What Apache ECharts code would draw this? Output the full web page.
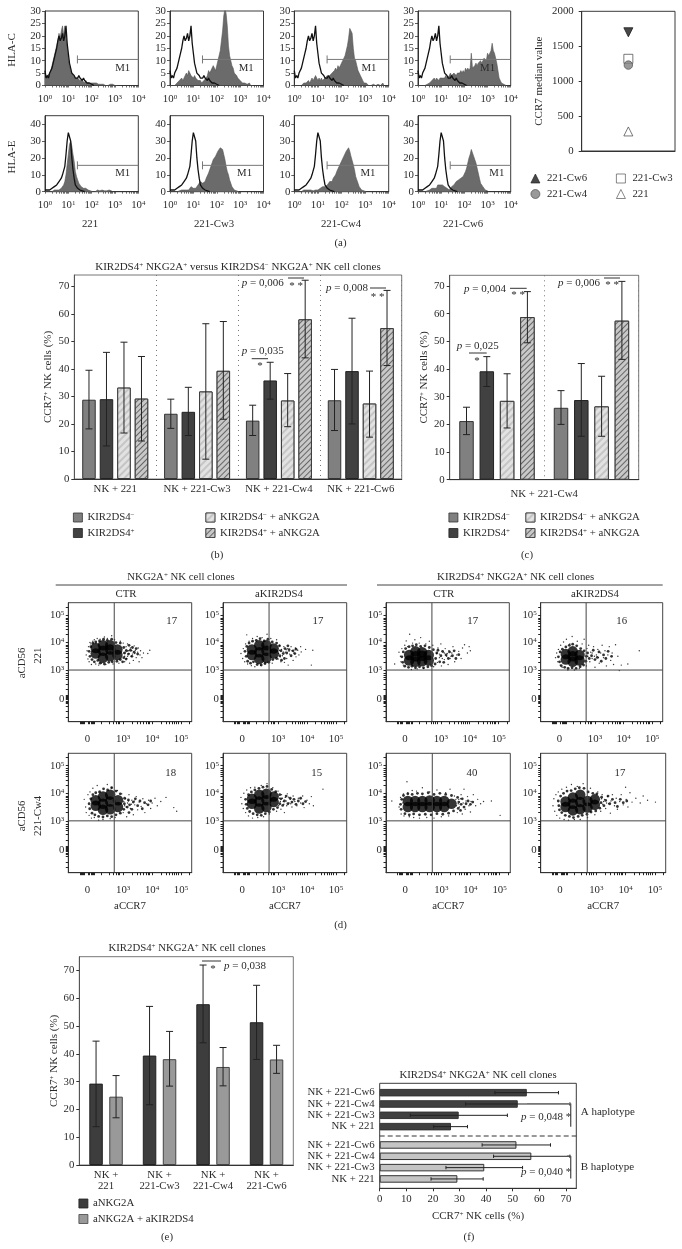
<!DOCTYPE html>
<html><head><meta charset="utf-8">
<style>html,body{margin:0;padding:0;background:#fff}#c{width:682px;height:1249px}</style>
<script src="https://cdn.jsdelivr.net/npm/echarts@6/dist/echarts.min.js"></script>
</head><body><div id="c"></div>
<script>
/* ---------- panel (a): histogram counts, one value every 0.05 decade from 10^0 ---------- */
const hlaCControl=[6,3,4,3,5,5,7,9,11,13,15,18,20,18,19,21,18,20,24,17,13,9,7,5,5,4,3,3,3,4,3,3,2,3,2,2,1,1,1,1,.5,.5,0];
const hlaEControl=[1,2,1,.5,1,.5,2,1,3,4,4,3,6,5,8,10,11,15,22,30,35,35,30,20,13,8,4,3,2,2,1,1,.5,.5,0];
const hlaC221=[3,3,4,4,5,6,8,10,12,14,16,18,21,19,22,24,20,24,24,16,11,8,6,5,4,4,3,3,3,3,2,2,2,2,1,2,1,1,1,1,1,.5,1,.5,1,.5,.5,0,.5,0,.5,0,0,.5,0,0,.5,0,.5,0,0,.5,0];
const hlaCCw3=[0,0,0,0,0,.5,1,1,2,2,3,2,3,4,5,4,6,5,4,4,3,4,3,3,2,2,2,1,1,2,2,3,4,6,5,6,7,8,7,6,8,10,12,14,18,22,28,31,29,24,16,12,10,8,7,5,5,4,3,3,2,2,1,1,1,1,.5,.5,1,0,.5,0];
const hlaCCw4=[0,0,0,0,0,0,0,.5,1,1,1,1,2,1,2,3,2,3,4,3,2,3,2,3,2,2,3,3,4,3,4,4,5,5,6,7,6,8,7,8,9,10,11,12,14,16,19,23,22,21,15,11,10,8,6,5,4,3,2,1,1,1,.5,0,0,0,0,.5,0,0,0,.5,0,0,.5,1,0];
const hlaCCw6=[0,0,0,0,0,0,0,0,.5,1,1,1,2,2,3,2,3,3,2,3,3,3,3,3,4,3,3,4,5,4,4,5,5,4,5,5,5,6,5,6,5,7,6,7,6,7,13,7,7,8,9,8,9,9,10,9,10,11,11,10,13,12,12,14,17,14,13,11,9,6,3,2,1,1,.5,.5,0];
const hlaE221=[0,0,0,0,0,.5,0,1,1,1,1,1,1,1,2,3,4,6,10,16,22,28,30,27,22,18,12,9,7,5,4,3,3,2,2,2,1,1,1,.5,.5,0,0,0,1,1,1,.5,1,1,1,.5,1,.5,1,1,.5,.5,0];
const hlaECw3=[0,0,0,0,0,0,0,.5,.5,1,1,1,1,2,1,2,1,2,3,3,2,3,2,3,4,5,6,6,5,4,6,8,9,11,12,15,17,19,20,21,22,24,24,26,27,25,22,19,15,12,10,7,5,3,2,1,1,.5,.5,0];
const hlaECw4=[0,0,0,0,0,0,0,.5,1,1,1,.5,1,1,1,1,.5,1,1,1,1,2,2,3,3,2,3,4,4,5,6,5,6,8,8,10,12,13,15,16,18,19,21,22,24,25,26,24,21,20,16,13,9,7,5,3,2,1,1,.5,.5,0];
const hlaECw6=[0,0,0,0,0,0,0,1,.5,1,1,1,2,3,2,3,2,4,3,4,5,4,4,3,3,2,3,1,2,3,3,4,5,6,6,7,7,8,8,9,10,12,14,17,20,22,25,24,21,19,17,14,11,8,5,4,3,2,1,.5,.5,0];
const histColumns=['221','221-Cw3','221-Cw4','221-Cw6'];
const ccr7Median=[['221-Cw6',1700],['221-Cw3',1320],['221-Cw4',1230],['221',280]];

/* ---------- panels (b) (c): mean, error low, error high per treatment ---------- */
const bCategories=['NK + 221','NK + 221-Cw3','NK + 221-Cw4','NK + 221-Cw6'];
const treatments=['KIR2DS4-','KIR2DS4+','KIR2DS4- + aNKG2A','KIR2DS4+ + aNKG2A'];
const bMeans=[[28.8,23.7,21.2,28.6],[29,24.4,35.8,39.2],[33.2,31.8,28.5,27.4],[29.2,39.3,58,54.8]];
const bLow=[[18.2,18.4,15.8,17.6],[12,15.8,29,20],[16.7,7.2,19,15.2],[13.8,21.7,44,41.2]];
const bHigh=[[39.5,29,26.8,39.8],[46,33.3,42.4,58.4],[49.7,56.4,38.3,39.2],[44.5,57.2,72.2,68.5]];
const cMeans=[[21.2,26],[39.2,28.8],[28.5,26.5],[58.8,57.5]];
const cLow=[[16.3,20],[33.7,15.7],[18.7,15.7],[49.5,43.5]];
const cHigh=[[26.2,32.2],[44.5,42],[38.3,37.4],[68,71.7]];

/* ---------- panel (e) ---------- */
const eCategories=['NK +\n221','NK +\n221-Cw3','NK +\n221-Cw4','NK +\n221-Cw6'];
const eTreatments=['aNKG2A','aNKG2A + aKIR2DS4'];
const eMeans=[[29.3,39.4,57.9,51.4],[24.6,38.1,35.3,38]];
const eLow=[[13.8,21.7,44,38],[17,28.4,28.5,33]];
const eHigh=[[44.6,57.1,72,64.7],[32.2,48.1,42.3,43.1]];

/* ---------- panel (f) ---------- */
const fCategories=['NK + 221-Cw6','NK + 221-Cw4','NK + 221-Cw3','NK + 221'];
const fAMeans=[55.3,51.9,29.7,26.8], fALow=[43.3,32.3,11.5,20.3], fAHigh=[67.2,71.5,48,33];
const fBMeans=[51.4,57,39.3,29.2], fBLow=[38.5,42.8,24.9,19.3], fBHigh=[64.2,71.5,53.7,38.9];

/* ---------- panel (d): dense cores, edge clusters and outlying events, in decades of the display scale ---------- */
const d1Core=[[2.05,3.6],[2.05,3.8],[2.3,3.45],[2.3,3.7],[2.3,3.9],[2.55,3.5],[2.55,3.75],[2.55,3.9],[2.8,3.55],[2.8,3.75]];
const d1Mid=[[1.85,3.5],[1.82,3.68],[1.88,3.85],[1.95,3.98],[2.05,4.02],[2.18,4.06],[2.32,4.12],[2.45,4.08],[2.6,4.12],[2.75,4],[2.9,3.98],[1.92,3.38],[2,3.3],[2.12,3.35],[2.2,3.25],[2.35,3.22],[2.5,3.28],[2.62,3.3],[2.78,3.32],[2.9,3.38],[3.02,3.45],[3.05,3.62],[3.02,3.82],[3.12,3.7],[3.18,3.58],[3.25,3.72],[3.3,3.5],[3.38,3.65],[3.45,3.78],[3.2,3.9],[3.1,3.4],[3.5,3.58],[3.32,3.82],[2.98,3.3]];
const d1Dots=[[1.72,3.55],[1.75,3.7],[1.78,3.4],[1.8,3.85],[1.82,3.3],[1.85,4],[1.88,3.95],[1.9,3.2],[1.95,4.05],[2,4.1],[2.05,3.22],[2.1,4.15],[2.15,3.18],[2.2,4.12],[2.25,3.25],[2.35,4.2],[2.4,3.2],[2.45,4.15],[2.6,4.25],[2.7,4.1],[2.65,3.22],[2.85,3.25],[2.9,4.05],[3,3.98],[3.05,3.3],[3.05,3.5],[3.08,3.7],[3.1,3.85],[3.12,3.42],[3.15,3.95],[3.2,3.6],[3.22,3.25],[3.25,3.8],[3.28,3.5],[3.3,3.7],[3.35,3.35],[3.38,3.88],[3.4,3.6],[3.42,3.72],[3.45,3.45],[3.5,3.65],[3.52,3.8],[3.55,3.3],[3.58,3.55],[3.6,3.7],[3.65,3.45],[3.7,3.62],[3.92,3.72],[3.85,3.6],[3.02,3.62],[3.1,3.75],[3.18,3.7],[3.15,3.5],[3.32,3.58]];
const d2Core=[[2.1,3.55],[2.1,3.75],[2.35,3.4],[2.35,3.65],[2.35,3.9],[2.6,3.45],[2.6,3.7],[2.6,3.9],[2.85,3.6],[2.85,3.78]];
const d2Mid=[[1.9,3.5],[1.86,3.68],[1.92,3.86],[2,3.98],[2.12,4.05],[2.25,4.08],[2.38,4.14],[2.52,4.06],[2.65,4.12],[2.8,4.02],[2.95,3.98],[1.95,3.32],[2.05,3.25],[2.15,3.3],[2.28,3.2],[2.42,3.18],[2.55,3.24],[2.68,3.28],[2.82,3.38],[2.95,3.42],[3.06,3.52],[3.1,3.7],[3.05,3.88],[3.18,3.6],[3.24,3.78],[3.3,3.62],[3.38,3.74],[3.45,3.52],[3.52,3.7],[3.58,3.6],[3.22,3.42],[3.34,3.88],[3.62,3.76],[3.12,3.36]];
const d2Dots=[[1.72,3.6],[1.78,3.42],[1.8,3.78],[1.85,3.3],[1.88,3.95],[1.92,4.28],[1.95,3.22],[2,4.05],[2.08,3.16],[2.12,4.15],[2.2,3.12],[2.28,4.22],[2.4,3.18],[2.45,4.18],[2.55,3.22],[2.62,4.3],[2.75,4.15],[2.8,3.25],[2.95,4.1],[3,3.4],[3.02,3.6],[3.05,3.9],[3.1,3.3],[3.12,3.75],[3.15,3.52],[3.2,3.85],[3.25,3.65],[3.3,3.42],[3.32,3.78],[3.35,3.18],[3.4,3.58],[3.45,3.85],[3.48,3.7],[3.52,3.35],[3.55,3.62],[3.6,3.8],[3.62,3.48],[3.68,3.72],[3.72,3.55],[3.78,3.85],[3.8,3.66],[3.95,3.75],[4.2,3.72],[4.15,3.18],[3.05,3.72],[3.18,3.66],[3.08,3.48],[3.28,3.74],[3.38,3.68],[3.22,3.28]];
const d3Core=[[1.9,3.35],[1.9,3.55],[2.12,3.3],[2.12,3.5],[2.12,3.68],[2.35,3.32],[2.35,3.52],[2.35,3.65],[2.58,3.35],[2.58,3.55]];
const d3Mid=[[1.68,3.28],[1.65,3.48],[1.7,3.66],[1.78,3.78],[1.9,3.85],[2.02,3.88],[2.15,3.92],[2.3,3.86],[2.45,3.88],[2.6,3.82],[2.74,3.74],[1.75,3.14],[1.88,3.1],[2,3.14],[2.12,3.08],[2.26,3.12],[2.4,3.08],[2.55,3.12],[2.68,3.16],[2.8,3.22],[2.82,3.42],[2.86,3.62],[2.9,3.72],[2.96,3.3],[3,3.52],[3.06,3.68],[3.1,3.28],[3.18,3.55],[3.26,3.42],[3.3,3.66],[3.4,3.52],[3.46,3.7],[3.52,3.42],[3.62,3.56]];
const d3Dots=[[1.4,3.22],[1.55,3.65],[1.6,3.5],[1.62,3.3],[1.65,3.78],[1.7,3.18],[1.75,3.9],[1.8,4.06],[1.85,3.85],[1.92,4.3],[1.98,3.02],[2.02,3.98],[2.1,4.1],[2.18,3.04],[2.25,3.98],[2.3,4.18],[2.4,3.06],[2.48,3.95],[2.6,4.05],[2.72,3.9],[2.75,3.12],[2.85,3.6],[2.88,3.28],[2.9,3.8],[2.95,3.45],[3,3.95],[3.02,3.15],[3.08,3.65],[3.12,3.38],[3.15,3.78],[3.2,3.5],[3.25,3.2],[3.28,3.7],[3.32,3.42],[3.38,3.62],[3.42,3.85],[3.48,3.3],[3.55,3.55],[3.62,3.68],[3.7,3.42],[3.75,3.8],[3.82,3.92],[3.98,3.85],[3.92,3.62],[4.02,3.7],[2.95,3.58],[3.05,3.42],[3.12,3.62],[3.22,3.6],[3.35,3.5]];
const d4Core=[[1.98,3.38],[1.98,3.58],[2.22,3.3],[2.22,3.5],[2.22,3.68],[2.46,3.35],[2.46,3.55]];
const d4Mid=[[1.76,3.3],[1.72,3.48],[1.78,3.66],[1.86,3.76],[1.98,3.84],[2.1,3.9],[2.22,3.94],[2.36,3.88],[2.5,3.78],[2.62,3.7],[1.82,3.16],[1.94,3.1],[2.06,3.06],[2.2,3.08],[2.34,3.06],[2.48,3.12],[2.6,3.18],[2.68,3.32],[2.7,3.5],[2.74,3.62],[2.8,3.42],[2.88,3.52],[2.94,3.72],[3,3.38],[3.08,3.46],[3.14,3.66],[3.22,3.32],[3.3,3.55],[3.38,3.42],[3.46,3.68],[3.58,3.5]];
const d4Dots=[[1.62,3.45],[1.66,3.62],[1.7,3.3],[1.72,3.75],[1.78,3.18],[1.8,3.9],[1.85,3.1],[1.9,4.02],[2,4.12],[2.05,3],[2.12,3.95],[2.2,4.22],[2.28,3],[2.38,4.05],[2.45,3.05],[2.55,3.95],[2.62,4.12],[2.7,3.15],[2.72,3.78],[2.75,3.5],[2.78,3.9],[2.82,3.3],[2.85,3.65],[2.9,3.42],[2.95,3.85],[3,3.1],[3.05,3.55],[3.1,3.75],[3.15,3.25],[3.2,3.62],[3.25,3.9],[3.3,3.45],[3.35,3.7],[3.4,3.15],[3.45,3.55],[3.5,3.85],[3.55,3.35],[3.6,3.62],[3.65,3.2],[3.72,3.92],[3.8,3.5],[3.92,3.18],[4.15,3.22],[3.85,2.98],[4.55,3.7],[2.9,3.62],[2.98,3.5],[3.12,3.45]];
const d5Core=[[2.05,3.55],[2.05,3.75],[2.3,3.4],[2.3,3.62],[2.3,3.88],[2.55,3.42],[2.55,3.7],[2.55,3.95],[2.82,3.5],[2.82,3.75]];
const d5Mid=[[1.82,3.62],[1.84,3.44],[1.88,3.8],[1.95,3.95],[2.05,4.02],[2.18,4.05],[2.32,4.16],[2.46,4.12],[2.6,4.2],[2.75,4.08],[2.9,3.98],[1.92,3.28],[2.02,3.22],[2.15,3.16],[2.3,3.14],[2.45,3.18],[2.6,3.15],[2.75,3.22],[2.9,3.28],[3.02,3.42],[3.04,3.62],[3.05,3.82],[3.14,3.5],[3.18,3.76],[3.22,3.58],[3.3,3.42],[3.35,3.68],[3.42,3.8],[3.5,3.55],[3.58,3.72],[3.66,3.44],[3.74,3.66],[3.86,3.58],[3.95,3.72],[3.2,3.3]];
const d5Dots=[[1.65,3.78],[1.7,3.5],[1.72,3.3],[1.78,3.95],[1.82,3.2],[1.85,4.05],[1.9,3.1],[1.95,4.18],[2,3.12],[2.1,4.28],[2.15,3.02],[2.2,4.08],[2.3,3.05],[2.45,4.32],[2.55,3.08],[2.6,4.2],[2.72,3.12],[2.8,4.1],[2.95,3.98],[3,3.3],[3.05,3.55],[3.08,3.8],[3.12,3.15],[3.15,3.65],[3.2,3.95],[3.25,3.45],[3.3,3.75],[3.35,3.22],[3.4,3.58],[3.45,3.88],[3.5,3.4],[3.55,3.68],[3.62,3.52],[3.68,3.8],[3.75,3.3],[3.8,3.62],[3.88,3.75],[3.95,3.45],[4,3.65],[4.1,3.82],[4.18,3.55],[4.3,3.7],[4.48,3.85],[4.75,3.48],[4.85,3.35],[3.02,3.7],[3.1,3.5],[3.18,3.72],[3.28,3.6],[3.38,3.72]];
const d6Core=[[2.1,3.62],[2.1,3.8],[2.35,3.45],[2.35,3.7],[2.35,3.95],[2.6,3.5],[2.6,3.75],[2.6,3.98],[2.85,3.68],[2.85,3.88]];
const d6Mid=[[1.9,3.6],[1.88,3.78],[1.94,3.45],[1.98,3.95],[2.08,4.05],[2.2,4.12],[2.34,4.18],[2.48,4.22],[2.62,4.25],[2.78,4.14],[2.92,4.06],[2.02,3.34],[2.14,3.26],[2.28,3.22],[2.42,3.2],[2.56,3.26],[2.7,3.32],[2.84,3.42],[2.98,3.48],[3.06,3.62],[3.1,3.8],[3.06,3.95],[3.16,3.56],[3.22,3.72],[3.28,3.9],[3.34,3.62],[3.42,3.82],[3.48,3.68],[3.55,3.78],[3.62,3.6],[3.7,3.72],[3.78,3.82],[3.86,3.62],[3.95,3.7]];
const d6Dots=[[1.72,3.85],[1.75,3.62],[1.8,3.45],[1.82,4],[1.88,3.3],[1.92,4.12],[1.98,3.18],[2.05,4.2],[2.12,3.1],[2.2,4.22],[2.3,3.12],[2.42,4.28],[2.5,3.15],[2.62,4.35],[2.7,3.25],[2.82,4.2],[2.95,3.35],[3,4.08],[3.02,3.55],[3.05,3.82],[3.1,3.42],[3.12,3.95],[3.18,3.7],[3.22,3.3],[3.25,3.85],[3.3,3.55],[3.32,3.98],[3.38,3.65],[3.42,3.78],[3.48,3.5],[3.52,3.9],[3.58,3.7],[3.65,3.55],[3.7,3.82],[3.78,3.65],[3.85,3.9],[3.9,3.48],[4,3.75],[4.08,3.62],[4.15,3.88],[4.22,3.55],[4.55,4.15],[3.08,3.7],[3.15,3.82],[3.2,3.6],[3.28,3.72],[3.36,3.86],[3.44,3.62]];
const d7Core=[[1.85,3.5],[1.85,3.72],[2.1,3.5],[2.1,3.72],[2.35,3.5],[2.35,3.72],[2.6,3.5],[2.6,3.74],[2.85,3.5],[2.85,3.72],[3.1,3.5],[3.1,3.72],[3.35,3.62]];
const d7Mid=[[1.62,3.42],[1.6,3.6],[1.64,3.78],[1.7,3.92],[1.85,3.98],[2,3.96],[2.18,4],[2.35,3.98],[2.55,4.02],[2.75,3.96],[2.95,4],[3.15,3.96],[3.35,3.92],[1.75,3.26],[1.9,3.22],[2.05,3.25],[2.25,3.22],[2.45,3.24],[2.65,3.22],[2.85,3.26],[3.05,3.24],[3.25,3.28],[3.42,3.36],[3.58,3.45],[3.6,3.68],[3.56,3.85],[3.68,3.6],[3.72,3.8],[3.78,3.5],[3.85,3.62],[3.92,3.72],[4,3.6],[4.08,3.68],[3.66,3.38]];
const d7Dots=[[1.3,3.72],[1.55,3.5],[1.6,3.85],[1.62,3.25],[1.68,3.65],[1.7,3.98],[1.72,3.18],[1.82,4.42],[1.85,4.02],[1.9,3.15],[2,4.1],[2.05,3.12],[2.15,4.08],[2.25,3.1],[2.35,4.2],[2.5,3.12],[2.6,4.05],[2.75,3.1],[2.85,4.12],[3,3.15],[3.15,4.02],[3.25,3.18],[3.3,4.15],[3.45,3.9],[3.55,3.3],[3.6,3.78],[3.62,3.5],[3.68,3.95],[3.72,3.25],[3.75,3.65],[3.78,4.15],[3.82,3.42],[3.85,3.72],[3.9,3.88],[3.95,3.55],[4,3.32],[4.02,3.7],[4.1,3.95],[4.18,3.55],[4.25,3.78],[4.35,3.62],[4.45,3.7],[4.72,3.72],[5.02,3.2],[3.52,3.55],[3.58,3.62],[3.66,3.8],[3.5,3.78]];
const d8Core=[[1.95,3.5],[1.95,3.7],[2.2,3.38],[2.2,3.62],[2.2,3.85],[2.45,3.42],[2.45,3.68],[2.45,3.95],[2.7,3.48],[2.7,3.72],[2.95,3.58],[2.95,3.78]];
const d8Mid=[[1.72,3.55],[1.7,3.72],[1.74,3.4],[1.78,3.9],[1.88,4],[2,4.08],[2.14,4.1],[2.28,4.16],[2.42,4.2],[2.58,4.18],[2.72,4.05],[2.88,4],[3.02,3.98],[1.82,3.3],[1.94,3.2],[2.08,3.16],[2.22,3.12],[2.38,3.16],[2.52,3.2],[2.68,3.24],[2.82,3.32],[2.98,3.36],[3.12,3.46],[3.16,3.66],[3.18,3.86],[3.26,3.55],[3.32,3.74],[3.4,3.9],[3.46,3.62],[3.55,3.78],[3.64,3.66],[3.72,3.52],[3.82,3.78],[3.92,3.66],[4.04,3.72]];
const d8Dots=[[1.52,3.55],[1.55,3.8],[1.58,3.35],[1.62,3.95],[1.65,3.2],[1.7,4.05],[1.75,3.1],[1.82,4.15],[1.9,3.05],[1.98,4.22],[2.05,3.02],[2.15,4.32],[2.25,3.05],[2.35,4.25],[2.45,3.05],[2.55,4.35],[2.7,3.12],[2.8,4.18],[2.95,3.22],[3.05,4.05],[3.15,3.35],[3.2,3.95],[3.22,3.6],[3.28,3.78],[3.32,3.45],[3.38,3.88],[3.42,3.62],[3.48,3.28],[3.5,3.72],[3.55,3.95],[3.62,3.55],[3.68,3.82],[3.72,3.42],[3.8,3.7],[3.85,3.95],[3.92,3.58],[4,4.22],[4.02,3.78],[4.08,3.5],[4.15,4.02],[4.22,3.68],[4.35,3.82],[4.5,3.65],[4.6,3.9],[4.75,3.75],[5.02,3.68],[3.25,3.7],[3.35,3.65],[3.18,3.8]];
const dCounts=['17','17','17','16','18','15','40','17'];
const dXLabels=[1.76,3,4,5], dYLabels=[1.95,3,4,5];
const dXTicks=[1.5,1.54,1.58,1.62,1.66,1.8,1.84,1.88,1.92,1.96,2,2.25,2.5,2.65,2.75,2.82,2.88,3,3.3,3.48,3.6,3.7,3.78,3.85,3.9,4,4.3,4.48,4.6,4.7,4.78,4.85,4.9,5,5.3];
const dYTicks=[1.3,1.5,1.7,1.8,1.84,1.88,1.92,1.96,2,2.04,2.08,2.3,2.5,2.65,2.75,2.82,2.88,3,3.3,3.48,3.6,3.7,3.78,3.85,3.9,4,4.3,4.48,4.6,4.7,4.78,4.85,4.9,5,5.3];

/* ---------- shared styling ---------- */
const FONT='"Liberation Serif",serif', INK='#2b2b2b', FS=10.8;
const supRich={s:{fontSize:7,fontFamily:FONT,color:INK,verticalAlign:'top'},
  i:{fontSize:11,fontFamily:FONT,fontStyle:'italic',color:INK}};
const mark=t=>t.replace(/KIR2DS4([+-])/g,(m,a)=>'KIR2DS4{s|'+(a==='-'?'−':'+')+'}');
const grids=[],xAxes=[],yAxes=[],series=[],legends=[],gfx=[];
function addGrid(x0,y0,x1,y1,border){
  grids.push({left:x0,top:y0,width:x1-x0,height:y1-y0,show:true,borderColor:border||'#3a3a3a',borderWidth:1,backgroundColor:'transparent'});
  return grids.length-1;
}
function txt(x,y,text,o){o=o||{};
  gfx.push({type:'text',x,y,rotation:o.rot||0,z:50,silent:true,style:{text,fill:o.color||INK,
    fontFamily:FONT,fontSize:o.size||FS,align:o.align||'center',verticalAlign:'middle',rich:supRich}});
}
function seg(x1,y1,x2,y2,o){o=o||{};
  gfx.push({type:'line',z:50,silent:true,shape:{x1,y1,x2,y2},style:{stroke:o.color||'#333',lineWidth:o.w||1,lineDash:o.dash||null}});
}
const axisBase=(extra)=>Object.assign({axisLine:{show:true,lineStyle:{color:'#333',width:1}},
  axisTick:{show:true,length:2.5,lineStyle:{color:'#333',width:.8}},splitLine:{show:false},nameMoveOverlap:false,
  axisLabel:{fontFamily:FONT,fontSize:FS,color:INK,rich:supRich},nameTextStyle:{fontFamily:FONT,fontSize:11,color:INK,rich:supRich}},extra);

/* ---------- panel (a) ---------- */
const histRows=[
 {y0:11,y1:85.5,yMax:30,ticks:[0,5,10,15,20,25,30],gate:10.5,control:hlaCControl,curves:[hlaC221,hlaCCw3,hlaCCw4,hlaCCw6],m1:[3.33,3.26,3.16,3],m1y:7},
 {y0:115.7,y1:191.7,yMax:45,ticks:[0,10,20,30,40],gate:15.6,control:hlaEControl,curves:[hlaE221,hlaECw3,hlaECw4,hlaECw6],m1:[3.33,3.19,3.12,3.4],m1y:11}];
const histCols=[[45,138.3],[170,263.5],[294.3,388.7],[418,510.7]];
const decadeTicks=[0,1,2,3].flatMap(k=>[1,2,3,4,5,6,7,8,9].map(m=>k+Math.log10(m))).concat([4]);
histRows.forEach(row=>histCols.forEach((c,ci)=>{
  const g=addGrid(c[0],row.y0,c[1],row.y1);
  xAxes.push(axisBase({gridIndex:g,type:'value',min:0,max:4,interval:1,axisTick:{show:true,length:2,customValues:decadeTicks,lineStyle:{color:'#333',width:.7}},
    axisLabel:{fontFamily:FONT,fontSize:FS,color:INK,margin:8,rich:supRich,formatter:v=>'10{s|'+v+'}'}}));
  yAxes.push(axisBase({gridIndex:g,type:'value',min:0,max:row.yMax,axisTick:{show:true,length:3,customValues:row.ticks,lineStyle:{color:'#333',width:.8}},
    axisLabel:{customValues:row.ticks,fontFamily:FONT,fontSize:FS,color:INK,margin:4}}));
  const toXY=a=>a.map((v,i)=>[i*0.05,v]);
  series.push({type:'line',name:'isotype '+histColumns[ci],xAxisIndex:g,yAxisIndex:g,symbol:'none',data:toXY(row.curves[ci]),clip:true,z:2,silent:true,
    lineStyle:{color:'#555',width:.6},areaStyle:{color:'#6b6b6b',opacity:1}});
  series.push({type:'line',name:'control '+histColumns[ci],xAxisIndex:g,yAxisIndex:g,symbol:'none',data:toXY(row.control),clip:true,z:3,silent:true,
    lineStyle:{color:'#111',width:1.3}});
  series.push({type:'custom',xAxisIndex:g,yAxisIndex:g,z:4,silent:true,data:[[1.39,row.gate,row.m1[ci],row.m1y]],encode:{x:0,y:1},
    renderItem:(p,api)=>{const a=api.coord([api.value(0),api.value(1)]),b=api.coord([4,api.value(1)]),l=api.coord([api.value(2),api.value(3)]);
      return {type:'group',children:[
        {type:'line',shape:{x1:a[0],y1:a[1],x2:b[0],y2:b[1]},style:{stroke:'#777',lineWidth:1}},
        {type:'line',shape:{x1:a[0],y1:a[1]-4,x2:a[0],y2:a[1]+4},style:{stroke:'#777',lineWidth:1}},
        {type:'text',x:l[0],y:l[1],style:{text:'M1',fontFamily:FONT,fontSize:FS,fill:INK,align:'center',verticalAlign:'middle'}}]};}});
}));
histColumns.forEach((t,i)=>txt([90,214,341,463][i],224,t));
txt(12,50,'HLA-C',{rot:Math.PI/2,size:11});txt(12,157,'HLA-E',{rot:Math.PI/2,size:11});
txt(340.5,243,'(a)');

/* median scatter */
{
 const g=addGrid(581.7,11.3,675,151);
 xAxes.push({gridIndex:g,type:'category',data:['m'],axisLine:{show:true,lineStyle:{color:'#333'}},axisTick:{show:false},axisLabel:{show:false},splitLine:{show:false}});
 yAxes.push(axisBase({gridIndex:g,type:'value',min:0,max:2000,interval:500,name:'CCR7 median value',nameLocation:'middle',nameGap:37.5,nameRotate:90,axisTick:{show:true,length:3,lineStyle:{color:'#333'}},
   axisLabel:{fontFamily:FONT,fontSize:FS,color:INK,formatter:v=>String(v)}}));
 const st={'221-Cw6':{symbol:'triangle',symbolRotate:180,symbolSize:9,itemStyle:{color:'#1a1a1a',borderColor:'#1a1a1a'}},
  '221-Cw3':{symbol:'rect',symbolSize:9,itemStyle:{color:'#fff',borderColor:'#444',borderWidth:.9}},
  '221-Cw4':{symbol:'circle',symbolSize:8.5,itemStyle:{color:'#808080',borderColor:'#444',borderWidth:.8}},
  '221':{symbol:'triangle',symbolSize:9,itemStyle:{color:'#fff',borderColor:'#444',borderWidth:.9}}};
 ccr7Median.forEach(([n,v])=>series.push(Object.assign({type:'scatter',name:n,xAxisIndex:g,yAxisIndex:g,data:[[0,v]],z:n==='221-Cw4'?5:3},st[n])));
 const lg=(left,data)=>legends.push({left,top:173,orient:'vertical',data,itemWidth:9,itemHeight:9,itemGap:4.5,selectedMode:false,padding:0,itemStyle:{borderWidth:.8},
   textStyle:{fontFamily:FONT,fontSize:FS,color:INK,padding:[0,0,0,2]}});
 lg(530.5,[{name:'221-Cw6',symbolRotate:180},'221-Cw4']);lg(616,['221-Cw3','221']);
}

/* ---------- bar styling ---------- */
const barStyle={
 'KIR2DS4-':{color:'#808080',borderColor:'#333',borderWidth:1},
 'KIR2DS4+':{color:'#414141',borderColor:'#222',borderWidth:1},
 'KIR2DS4- + aNKG2A':{color:'#dcdcdc',borderColor:'#3a3a3a',borderWidth:1,decal:{symbol:'rect',color:'rgba(190,190,190,.8)',backgroundColor:'#e2e2e2',dashArrayX:[1,0],dashArrayY:[1.5,2.2],rotation:-Math.PI/4,symbolSize:1}},
 'KIR2DS4+ + aNKG2A':{color:'#c4c4c4',borderColor:'#3a3a3a',borderWidth:1,decal:{symbol:'rect',color:'#666',backgroundColor:'#c8c8c8',dashArrayX:[1,0],dashArrayY:[1,2.4],rotation:-Math.PI/4,symbolSize:1}},
 'aNKG2A':{color:'#3d3d3d',borderColor:'#222',borderWidth:1},
 'aNKG2A + aKIR2DS4':{color:'#999',borderColor:'#444',borderWidth:1}};
function errSeries(g,data,offsetOf,horizontal,cap,color){
  series.push({type:'custom',xAxisIndex:g,yAxisIndex:g,z:6,silent:true,data,encode:horizontal?{y:0,x:[2,3]}:{x:0,y:[2,3]},
   renderItem:(p,api)=>{
    const cat=api.value(0),off=offsetOf(api.value(1));
    const a=horizontal?api.coord([api.value(2),cat]):api.coord([cat,api.value(2)]);
    const b=horizontal?api.coord([api.value(3),cat]):api.coord([cat,api.value(3)]);
    const st={stroke:color,lineWidth:1};
    if(horizontal) return {type:'group',children:[
      {type:'line',shape:{x1:a[0],y1:a[1],x2:b[0],y2:b[1]},style:st},
      {type:'line',shape:{x1:a[0],y1:a[1]-cap,x2:a[0],y2:a[1]+cap},style:st},
      {type:'line',shape:{x1:b[0],y1:b[1]-cap,x2:b[0],y2:b[1]+cap},style:st}]};
    const x=a[0]+off;
    return {type:'group',children:[
      {type:'line',shape:{x1:x,y1:a[1],x2:x,y2:b[1]},style:st},
      {type:'line',shape:{x1:x-cap,y1:a[1],x2:x+cap,y2:a[1]},style:st},
      {type:'line',shape:{x1:x-cap,y1:b[1],x2:x+cap,y2:b[1]},style:st}]};}});
}
function barPanel(o){
  const g=addGrid(o.x0,o.y0,o.x1,o.y1,'#777');
  xAxes.push(axisBase({gridIndex:g,type:'category',data:o.cats,axisTick:{show:false},
    axisLine:{show:true,lineStyle:{color:'#333',width:1.2}},
    splitLine:o.dotted?{show:true,lineStyle:{type:[1,4],color:'#777',width:1}}:{show:false},
    axisLabel:{show:o.showCats!==false,fontFamily:FONT,fontSize:FS,color:INK,margin:o.catMargin||4,lineHeight:o.catLine||13,interval:0},
    name:o.xName||'',nameLocation:'middle',nameGap:o.xNameGap||13,nameTextStyle:{fontFamily:FONT,fontSize:FS,color:INK}}));
  const t=[0,10,20,30,40,50,60,70];
  yAxes.push(axisBase({gridIndex:g,type:'value',min:0,max:o.yMax,name:'CCR7{s|+} NK cells (%)',nameLocation:'middle',nameGap:o.nameGap,nameRotate:90,
    axisLine:{show:true,lineStyle:{color:'#555',width:1}},axisTick:{show:true,length:3,customValues:t,lineStyle:{color:'#333'}},
    axisLabel:{customValues:t,fontFamily:FONT,fontSize:FS,color:INK,margin:5}}));
  const n=o.names.length;
  o.names.forEach((name,j)=>series.push({type:'bar',name,xAxisIndex:g,yAxisIndex:g,data:o.means[j],barWidth:o.barWidth,barGap:o.barGap,z:2,silent:true,itemStyle:barStyle[name]}));
  const ed=[];o.names.forEach((name,j)=>o.low[j].forEach((l,c)=>ed.push([c,j,l,o.high[j][c]])));
  errSeries(g,ed,j=>(j-(n-1)/2)*o.spacing,false,o.cap||3.5,'#222');
}
const lgFmt=n=>mark(n);
function barLegend(left,top,data){legends.push({left,top,orient:'vertical',data,itemWidth:9,itemHeight:9,itemGap:4.5,selectedMode:false,padding:0,icon:'rect',formatter:lgFmt,itemStyle:{borderWidth:.8},
  textStyle:{fontFamily:FONT,fontSize:FS,color:INK,rich:supRich}});}

/* ---------- panel (b) ---------- */
barPanel({x0:74.3,y0:275,x1:401.7,y1:479,yMax:74.1,cats:bCategories,names:treatments,means:bMeans,low:bLow,high:bHigh,barWidth:13.5,barGap:'29.6%',spacing:17.5,nameGap:21,dotted:true});
barLegend(73,512,treatments.slice(0,2));barLegend(205.5,512,treatments.slice(2));
txt(238,267,'KIR2DS4{s|+} NKG2A{s|+} versus KIR2DS4{s|−} NKG2A{s|+} NK cell clones',{size:11});
const P=(x,y,v)=>txt(x,y,'{i|p} = '+v,{align:'left',size:11});
const STAR=(x,y,t)=>txt(x,y,t,{size:11});
P(241.7,283,'0,006');seg(288,278,304,278);STAR(296,286,'* *');
P(241.7,351,'0,035');seg(251.7,358.7,268,358.7);STAR(260,366,'*');
P(326,288,'0,008');seg(370,288,386,288);STAR(377.5,297,'* *');
txt(217,555,'(b)');

/* ---------- panel (c) ---------- */
barPanel({x0:449.7,y0:275.3,x1:638.7,y1:479.7,yMax:73.9,cats:['group 1','group 2'],names:treatments,means:cMeans,low:cLow,high:cHigh,barWidth:14.5,barGap:'40%',spacing:20.3,nameGap:20,dotted:true,showCats:false,xName:'NK + 221-Cw4',xNameGap:9});
barLegend(448.5,512,treatments.slice(0,2));barLegend(525.5,512,treatments.slice(2));
P(464,289.5,'0,004');seg(510,288.3,526.7,288.3);STAR(518,295.5,'* *');
P(456.7,346,'0,025');seg(469,353,486.7,353);STAR(477,361,'*');
P(558,283,'0,006');seg(604,278,620,278);STAR(612,285.5,'* *');
txt(527,555,'(c)');

/* ---------- panel (d) ---------- */
const dPanels=[
 {x:[68.3,191.7],y:[602.7,721.7],core:d1Core,mid:d1Mid,dots:d1Dots},
 {x:[223,346.7],y:[602.7,721.7],core:d2Core,mid:d2Mid,dots:d2Dots},
 {x:[386,509.3],y:[602.7,721.7],core:d3Core,mid:d3Mid,dots:d3Dots},
 {x:[540.7,662.7],y:[602.7,721.7],core:d4Core,mid:d4Mid,dots:d4Dots},
 {x:[68.3,191.7],y:[753.3,872.7],core:d5Core,mid:d5Mid,dots:d5Dots},
 {x:[223,346.7],y:[753.3,872.7],core:d6Core,mid:d6Mid,dots:d6Dots},
 {x:[386,510.3],y:[753.3,872.7],core:d7Core,mid:d7Mid,dots:d7Dots},
 {x:[540.7,665.7],y:[753.3,872.7],core:d8Core,mid:d8Mid,dots:d8Dots}];
const dFmt=(v,zero)=>v===zero?'0':'10{s|'+v+'}';
dPanels.forEach((p,i)=>{
  const g=addGrid(p.x[0],p.y[0],p.x[1],p.y[1],'#444');
  xAxes.push(axisBase({gridIndex:g,type:'value',min:1.1,max:5.37,axisTick:{show:true,length:2.5,customValues:dXTicks,lineStyle:{color:'#222',width:1}},
    axisLabel:{customValues:dXLabels,fontFamily:FONT,fontSize:FS,color:INK,margin:12,rich:supRich,formatter:v=>dFmt(v,1.76)},
    name:i>3?'aCCR7':'',nameLocation:'middle',nameGap:27.5,nameTextStyle:{fontFamily:FONT,fontSize:FS,color:INK}}));
  yAxes.push(axisBase({gridIndex:g,type:'value',min:1.12,max:5.45,axisTick:{show:true,length:2.5,customValues:dYTicks,lineStyle:{color:'#222',width:1}},
    axisLabel:{customValues:dYLabels,fontFamily:FONT,fontSize:FS,color:INK,margin:4,rich:supRich,formatter:v=>dFmt(v,1.95)}}));
  series.push({type:'scatter',xAxisIndex:g,yAxisIndex:g,data:p.core,symbolSize:10.5,itemStyle:{color:'#000'},silent:true,z:2});
  series.push({type:'scatter',xAxisIndex:g,yAxisIndex:g,data:p.mid,symbolSize:2.8,itemStyle:{color:'#000'},silent:true,z:2});
  series.push({type:'scatter',xAxisIndex:g,yAxisIndex:g,data:p.dots,symbolSize:1.4,itemStyle:{color:'#000'},silent:true,z:2});
  series.push({type:'line',xAxisIndex:g,yAxisIndex:g,symbol:'none',silent:true,z:4,data:[[2.69,1.12],[2.69,5.45]],lineStyle:{color:'#444',width:1}});
  series.push({type:'line',xAxisIndex:g,yAxisIndex:g,symbol:'none',silent:true,z:4,data:[[1.1,3.0],[5.37,3.0]],lineStyle:{color:'#444',width:1}});
});
const dCountPos=[[171.7,621],[318,621],[472.7,621],[621.7,621],[170.7,773],[316.7,773],[472,773],[620,773]];
dCounts.forEach((t,i)=>txt(dCountPos[i][0],dCountPos[i][1],t));
txt(181,577,'NKG2A{s|+} NK cell clones');seg(55.7,585,347,585,{color:'#444'});
txt(515.7,577,'KIR2DS4{s|+} NKG2A{s|+} NK cell clones');seg(377,585,662.7,585,{color:'#444'});
[[126,'CTR'],[279,'aKIR2DS4'],[443.7,'CTR'],[595,'aKIR2DS4']].forEach(a=>txt(a[0],594,a[1]));
txt(21.7,663,'aCD56',{rot:Math.PI/2});txt(38,655.7,'221',{rot:Math.PI/2});
txt(21.7,816,'aCD56',{rot:Math.PI/2});txt(38,816,'221-Cw4',{rot:Math.PI/2});
txt(340.5,925,'(d)');

/* ---------- panel (e) ---------- */
barPanel({x0:79.3,y0:956.7,x1:293.3,y1:1165,yMax:75,cats:eCategories,names:eTreatments,means:eMeans,low:eLow,high:eHigh,barWidth:13.5,barGap:'48%',spacing:20,nameGap:20,catMargin:4,catLine:11.5});
barLegend(78.5,1198,eTreatments);
txt(187,948,'KIR2DS4{s|+} NKG2A{s|+} NK cell clones');
seg(202,961,221,961);STAR(213,969,'*');P(224,966,'0,038');
txt(167,1237,'(e)');

/* ---------- panel (f) ---------- */
{
 const F=addGrid(379.7,1083.3,576.3,1188.3);
 xAxes.push(axisBase({gridIndex:F,type:'value',min:0,max:73.9,name:'CCR7{s|+} NK cells (%)',nameLocation:'middle',nameGap:22,
   axisTick:{show:true,length:3,customValues:[0,10,20,30,40,50,60,70],lineStyle:{color:'#333'}},
   axisLabel:{customValues:[0,10,20,30,40,50,60,70],fontFamily:FONT,fontSize:FS,color:INK,margin:5}}));
 yAxes.push({gridIndex:F,type:'value',min:0,max:1,show:false});
 series.push({type:'line',xAxisIndex:F,yAxisIndex:F,data:[],silent:true});
 const sub=(top,name,means,low,high,color)=>{
   grids.push({left:379.7,top,width:196.6,height:45.3,show:false});
   const g=grids.length-1;
   xAxes.push({gridIndex:g,type:'value',min:0,max:73.9,show:false});
   yAxes.push(axisBase({gridIndex:g,type:'category',inverse:true,data:fCategories,axisLine:{show:false},axisTick:{show:false},
     axisLabel:{fontFamily:FONT,fontSize:FS,color:INK,margin:5,interval:0}}));
   series.push({type:'bar',name,xAxisIndex:g,yAxisIndex:g,data:means,barWidth:7.5,z:2,silent:true,itemStyle:{color,borderColor:'#333',borderWidth:1}});
   errSeries(g,low.map((l,c)=>[c,0,l,high[c]]),()=>0,true,1.7,'#222');
 };
 sub(1087,'A haplotype',fAMeans,fALow,fAHigh,'#404040');
 sub(1139.3,'B haplotype',fBMeans,fBLow,fBHigh,'#c4c4c4');
 txt(478,1075,'KIR2DS4{s|+} NKG2A{s|+} NK cell clones');
 seg(379.7,1136,576.3,1136,{dash:[5,3],color:'#333'});
 seg(527,1103.5,570.7,1103.5,{color:'#777'});seg(570.7,1103.5,570.7,1126.7,{color:'#555',w:1.3});
 seg(567,1156,570.7,1156,{color:'#555'});seg(570.7,1156,570.7,1178.5,{color:'#555',w:1.3});
 txt(521,1116.7,'{i|p} = 0,048 *',{align:'left',size:11});
 txt(521,1172.3,'{i|p} = 0,040 *',{align:'left',size:11});
 txt(580.7,1111.7,'A haplotype',{align:'left',size:11});
 txt(580.7,1166.7,'B haplotype',{align:'left',size:11});
 txt(469,1237,'(f)');
}

const chart=echarts.init(document.getElementById('c'),null,{width:682,height:1249});
chart.setOption({animation:false,backgroundColor:'#fff',grid:grids,xAxis:xAxes,yAxis:yAxes,series,legend:legends,graphic:{elements:gfx},tooltip:{show:false}});
</script></body></html>
